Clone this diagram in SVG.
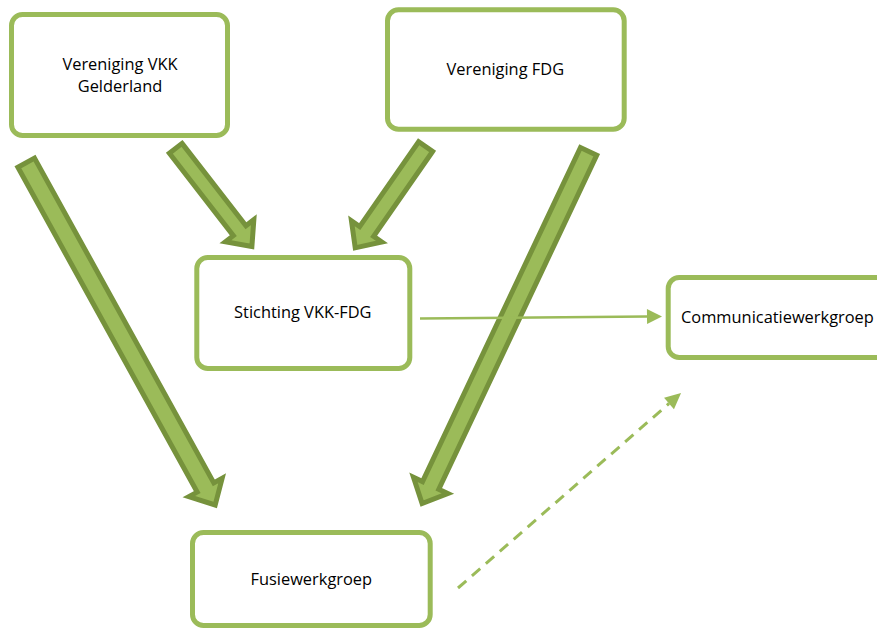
<svg xmlns="http://www.w3.org/2000/svg" width="877" height="628" viewBox="0 0 877 628">
<style>
.box{fill:#fff;stroke:#9BBB59;stroke-width:5}
.lbl{font-family:"Open Sans","Noto Sans","Liberation Sans",sans-serif;font-size:16.4px;fill:#000;text-anchor:middle}
.blk{fill:#9BBB59;stroke:#76923C;stroke-width:5;stroke-linejoin:miter;stroke-miterlimit:10}
.thin{fill:none;stroke:#9BBB59;stroke-width:2.5}
.dash{fill:none;stroke:#9BBB59;stroke-width:3;stroke-dasharray:11 7.5}
</style>
<defs>
<marker id="ah" markerUnits="userSpaceOnUse" markerWidth="20" markerHeight="20" refX="0" refY="0" orient="auto" overflow="visible"><path d="M0,-7.5 L15,0 L0,7.5 Z" fill="#9BBB59"/></marker>
<marker id="ah2" markerUnits="userSpaceOnUse" markerWidth="20" markerHeight="20" refX="0" refY="0" orient="auto" overflow="visible"><path d="M0,-7.5 L16,0 L0,7.5 Z" fill="#9BBB59"/></marker>
</defs>
<rect width="877" height="628" fill="#fff"/>
<g id="nodes">
<g id="vkk"><rect class="box" x="11.5" y="14.5" width="216" height="121" rx="11"/><text class="lbl" x="120" y="69.6">Vereniging VKK</text><text class="lbl" x="120" y="92.2">Gelderland</text></g>
<g id="fdg"><rect class="box" x="387.5" y="9.8" width="236.7" height="119.4" rx="11"/><text class="lbl" x="505.3" y="75">Vereniging FDG</text></g>
<g id="stichting"><rect class="box" x="196.8" y="257.5" width="213" height="111" rx="11"/><text class="lbl" x="302.8" y="318.3">Stichting VKK-FDG</text></g>
<g id="communicatie"><rect class="box" x="668.2" y="277.5" width="240" height="80" rx="11"/><text class="lbl" x="681" y="323.3" style="text-anchor:start">Communicatiewerkgroep</text></g>
<g id="fusie"><rect class="box" x="192.5" y="532.5" width="237.7" height="93" rx="11"/><text class="lbl" x="311.3" y="585">Fusiewerkgroep</text></g>
</g>
<g id="connectors">
<path class="blk" transform="translate(26.2,162.7) rotate(61.1)" d="M0,-9.5 L371,-9.5 L371,-19 L391,0 L371,19 L371,9.5 L0,9.5 Z"/>
<path class="blk" transform="translate(175.7,148.3) rotate(52.2)" d="M0,-8 L104.3,-8 L104.3,-18 L124.3,0 L104.3,18 L104.3,8 L0,8 Z"/>
<path class="blk" transform="translate(425.6,146.6) rotate(124.8)" d="M0,-8.5 L103.3,-8.5 L103.3,-18.5 L123.3,0 L103.3,18.5 L103.3,8.5 L0,8.5 Z"/>
<path class="blk" transform="translate(588.6,151.3) rotate(115.3)" d="M0,-9 L369.6,-9 L369.6,-19 L389.6,0 L369.6,19 L369.6,9 L0,9 Z"/>
<line class="thin" x1="420" y1="318.5" x2="647" y2="316.6" marker-end="url(#ah)"/>
<line class="dash" x1="458" y1="588" x2="669" y2="403.5" marker-end="url(#ah2)"/>
</g>
</svg>
